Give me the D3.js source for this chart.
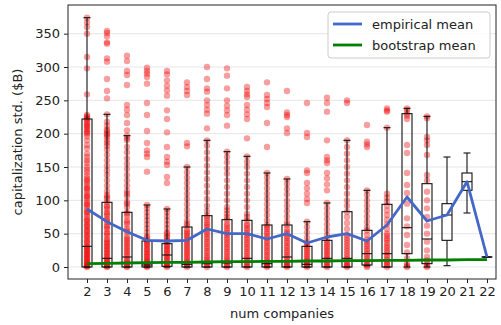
<!DOCTYPE html>
<html>
<head>
<meta charset="utf-8">
<script src="https://cdn.jsdelivr.net/npm/d3@7"></script>
<style>
  body { margin: 0; background: #fff; }
  svg { font-family: "DejaVu Sans", sans-serif; }
</style>
</head>
<body>
<svg id="chart" width="501" height="325"></svg>
<script>
// categories (number of companies)
const categories = [2, 3, 4, 5, 6, 7, 8, 9, 10, 11, 12, 13, 14, 15, 16, 17, 18, 19, 20, 21, 22];

// box statistics
const whiskerLow = [0, 0, 0, 0, 0, 0, 0, 0, 0, 0, 0, 0, 0, 0, 2, 0, 0, 0, 2, 81, 15];
const q1 = [0, 0, 0, 0, 1, 0, 0, 0, 0, 0, 0, 0, 0, 0, 3, 0, 20, 5, 40, 115, 15];
const medians = [31, 13, 15, 3, 18, 4, 5, 6, 13, 5, 15, 4, 13, 13, 20, 20, 59, 42, 78, 128, 15];
const q3 = [222, 97, 82, 39, 35, 60, 77, 71, 70, 63, 63, 31, 40, 83, 55, 94, 230, 125, 95, 141, 15];
const whiskerHigh = [374, 229, 197, 93, 87, 150, 190, 173, 166, 141, 132, 68, 96, 190, 115, 209, 238, 226, 165, 171, 15];

// mean lines
const empiricalMean = [87, 68, 53, 40, 39, 40, 57, 50, 50, 42, 50, 36, 45, 50, 39, 63, 105, 69, 78, 128, 15];
const bootstrapMean = [5, 5.5, 6, 6.5, 7, 7, 7.5, 8, 8, 8.5, 8.5, 9, 9, 9.5, 9.5, 10, 10, 10.5, 10.5, 11, 11];

// individual observations per category
const points = [
  [374, 367, 360, 350, 315, 298, 259, 228, 226, 224, 222, 220, 217, 214, 210, 207, 204, 200, 196, 190, 183, 178, 170, 165, 160, 156, 150, 146, 142, 137, 133, 128, 124, 120, 116, 112, 108, 104, 100, 96, 92, 88, 84, 80, 76, 72, 68, 64, 60, 56, 52, 48, 44, 40, 36, 32, 28, 24, 20, 16, 12, 8, 5, 3, 1, 0, 2, 6, 10, 14, 18, 22, 26, 30, 38, 46, 54, 62, 70, 82, 94, 106, 118, 130, 202, 212],
  [354, 351, 346, 337, 335, 313, 308, 282, 264, 253, 229, 218, 212, 206, 200, 195, 190, 186, 182, 176, 168, 160, 152, 145, 138, 130, 122, 114, 108, 102, 97, 92, 87, 82, 77, 72, 67, 62, 57, 52, 47, 42, 37, 32, 27, 22, 17, 12, 8, 4, 1, 0, 2, 6, 10, 15, 20, 25, 30, 35, 40, 50, 60, 70, 80, 90, 105, 204, 198],
  [317, 309, 294, 288, 273, 243, 236, 228, 216, 205, 197, 193, 190, 180, 172, 163, 155, 147, 138, 130, 122, 114, 106, 98, 90, 82, 76, 70, 64, 58, 52, 46, 40, 34, 28, 22, 16, 10, 5, 1, 0, 3, 7, 12, 19, 25, 31, 37, 43, 55, 67, 80, 95, 110],
  [299, 294, 290, 285, 275, 246, 228, 204, 186, 175, 170, 165, 143, 93, 88, 82, 76, 70, 64, 58, 52, 46, 40, 35, 30, 25, 20, 15, 10, 6, 3, 1, 0, 2, 5, 8, 12, 17, 22, 27, 33, 38, 44],
  [294, 289, 280, 272, 265, 257, 235, 222, 202, 180, 165, 158, 153, 135, 126, 87, 82, 76, 70, 64, 58, 52, 46, 40, 35, 30, 25, 20, 15, 10, 5, 2, 0, 3, 7, 12, 17, 22, 27, 32, 38, 44, 50],
  [277, 270, 264, 258, 186, 181, 150, 142, 134, 126, 118, 110, 102, 94, 86, 78, 70, 62, 56, 50, 44, 38, 32, 26, 20, 14, 8, 4, 0, 2, 6, 11, 17, 23, 29, 35, 41, 47, 53, 65],
  [300, 282, 268, 263, 250, 243, 236, 230, 208, 190, 182, 172, 162, 152, 142, 132, 122, 112, 102, 92, 84, 77, 70, 63, 56, 49, 42, 35, 28, 21, 14, 8, 3, 0, 5, 11, 17, 24, 31, 38, 45, 52, 60, 66, 74],
  [298, 287, 268, 250, 242, 235, 228, 212, 173, 165, 157, 148, 140, 130, 120, 110, 100, 90, 80, 71, 65, 58, 51, 44, 37, 30, 23, 16, 10, 5, 0, 2, 7, 13, 20, 27, 34, 41, 48, 55, 62, 75, 85],
  [270, 264, 259, 255, 243, 236, 229, 222, 193, 166, 158, 150, 140, 130, 120, 110, 100, 90, 80, 70, 64, 58, 51, 44, 37, 30, 23, 16, 10, 5, 0, 2, 7, 13, 20, 27, 34, 41, 48, 55, 62, 75],
  [277, 258, 252, 246, 240, 216, 180, 141, 134, 126, 118, 110, 102, 94, 86, 78, 70, 63, 57, 50, 43, 36, 29, 22, 15, 8, 3, 0, 2, 5, 11, 18, 25, 32, 39, 46, 53, 60],
  [264, 232, 228, 225, 208, 201, 132, 125, 117, 109, 100, 92, 84, 76, 68, 63, 57, 50, 43, 36, 29, 22, 15, 8, 3, 0, 2, 5, 11, 18, 25, 32, 39, 46, 53],
  [246, 201, 195, 145, 141, 126, 118, 110, 102, 96, 68, 60, 52, 44, 37, 31, 25, 19, 13, 8, 3, 0, 2, 5, 10, 16, 22, 28, 34],
  [254, 246, 233, 190, 165, 160, 156, 141, 133, 124, 115, 96, 88, 80, 72, 64, 56, 48, 40, 34, 28, 22, 16, 10, 5, 0, 2, 7, 13, 19, 25, 31, 37],
  [250, 246, 190, 180, 170, 160, 150, 140, 130, 120, 110, 100, 92, 83, 75, 66, 57, 48, 40, 32, 24, 16, 9, 3, 0, 2, 6, 12, 20, 28, 36, 44],
  [213, 188, 184, 180, 115, 108, 100, 92, 84, 76, 68, 60, 55, 48, 41, 34, 27, 20, 13, 7, 2, 0, 4, 10, 17, 24, 31, 38],
  [238, 235, 233, 209, 110, 104, 98, 92, 85, 78, 71, 64, 57, 50, 43, 36, 29, 22, 15, 8, 3, 0, 5, 11, 18, 25, 32, 40, 47],
  [238, 235, 230, 227, 222, 183, 171, 141, 123, 111, 95, 73, 61, 48, 33, 22, 13, 5, 0, 2],
  [226, 223, 195, 190, 183, 168, 138, 130, 113, 100, 88, 75, 62, 50, 38, 25, 15, 5, 0, 2, 10],
  [],
  [],
  []
];

const yTicks = [0, 50, 100, 150, 200, 250, 300, 350];

const width = 501, height = 325;
const margin = { left: 68, right: 5, top: 5, bottom: 46 };
const svg = d3.select("#chart");

const x = d3.scaleLinear().domain([1.05, 22.45]).range([margin.left, width - margin.right]);
const y = d3.scaleLinear().domain([-18, 393]).range([height - margin.bottom, margin.top]);

// grid
svg.append("g")
  .selectAll("line")
  .data(yTicks)
  .join("line")
  .attr("x1", margin.left)
  .attr("x2", width - margin.right)
  .attr("y1", d => y(d))
  .attr("y2", d => y(d))
  .attr("stroke", "#e6e6e6")
  .attr("stroke-width", 1);

// scatter points
const flat = [];
points.forEach((arr, i) => arr.forEach(v => flat.push({ c: categories[i], v })));
svg.append("g")
  .selectAll("circle")
  .data(flat)
  .join("circle")
  .attr("cx", d => x(d.c))
  .attr("cy", d => y(d.v))
  .attr("r", 3.2)
  .attr("fill", "#ee0000")
  .attr("fill-opacity", 0.38);

// boxes
const boxW = 0.5, capW = 0.35;
const boxes = categories.map((c, i) => ({
  c, lo: whiskerLow[i], q1: q1[i], med: medians[i], q3: q3[i], hi: whiskerHigh[i]
}));
const bg = svg.append("g").attr("stroke", "#111").attr("stroke-width", 1.1).attr("fill", "none");
boxes.forEach(b => {
  const g = bg.append("g");
  g.append("line").attr("x1", x(b.c)).attr("x2", x(b.c)).attr("y1", y(b.q3)).attr("y2", y(b.hi));
  g.append("line").attr("x1", x(b.c)).attr("x2", x(b.c)).attr("y1", y(b.lo)).attr("y2", y(b.q1));
  g.append("line").attr("x1", x(b.c - capW / 2)).attr("x2", x(b.c + capW / 2)).attr("y1", y(b.hi)).attr("y2", y(b.hi));
  g.append("line").attr("x1", x(b.c - capW / 2)).attr("x2", x(b.c + capW / 2)).attr("y1", y(b.lo)).attr("y2", y(b.lo));
  g.append("rect")
    .attr("x", x(b.c - boxW / 2))
    .attr("width", x(b.c + boxW / 2) - x(b.c - boxW / 2))
    .attr("y", y(b.q3))
    .attr("height", Math.max(0.01, y(b.q1) - y(b.q3)));
  g.append("line").attr("x1", x(b.c - boxW / 2)).attr("x2", x(b.c + boxW / 2)).attr("y1", y(b.med)).attr("y2", y(b.med));
});

// mean lines
const line = d3.line().x((d, i) => x(categories[i])).y(d => y(d));
svg.append("path")
  .attr("d", line(bootstrapMean))
  .attr("fill", "none")
  .attr("stroke", "#008000")
  .attr("stroke-width", 2.8);
svg.append("path")
  .attr("d", line(empiricalMean))
  .attr("fill", "none")
  .attr("stroke", "#4468c8")
  .attr("stroke-width", 2.8)
  .attr("stroke-linejoin", "round");

// axes
const xAxis = d3.axisBottom(x).tickValues(categories).tickSize(4).tickPadding(4).tickFormat(d3.format("d"));
const yAxis = d3.axisLeft(y).tickValues(yTicks).tickSize(4).tickPadding(4);
const gx = svg.append("g").attr("transform", `translate(0,${height - margin.bottom})`).call(xAxis);
const gy = svg.append("g").attr("transform", `translate(${margin.left},0)`).call(yAxis);
[gx, gy].forEach(g => {
  g.select(".domain").remove();
  g.selectAll("text").attr("font-size", 13).attr("fill", "#222").attr("font-family", "DejaVu Sans");
  g.selectAll("line").attr("stroke", "#222");
});

// frame
svg.append("rect")
  .attr("x", margin.left)
  .attr("y", margin.top)
  .attr("width", width - margin.left - margin.right)
  .attr("height", height - margin.top - margin.bottom)
  .attr("fill", "none")
  .attr("stroke", "#222")
  .attr("stroke-width", 1);

// axis labels
svg.append("text")
  .attr("x", (margin.left + width - margin.right) / 2)
  .attr("y", 318)
  .attr("text-anchor", "middle")
  .attr("font-size", 13)
  .attr("fill", "#222")
  .text("num companies");
svg.append("text")
  .attr("transform", `translate(22,${(margin.top + height - margin.bottom) / 2}) rotate(-90)`)
  .attr("text-anchor", "middle")
  .attr("font-size", 13)
  .attr("fill", "#222")
  .text("capitalization std. ($B)");

// legend
const legend = svg.append("g");
legend.append("rect")
  .attr("x", 328).attr("y", 12).attr("width", 162).attr("height", 46)
  .attr("rx", 3)
  .attr("fill", "#fff").attr("fill-opacity", 0.85)
  .attr("stroke", "#ccc");
const legendItems = [
  { label: "empirical mean", color: "#4468c8" },
  { label: "bootstrap mean", color: "#008000" }
];
legendItems.forEach((d, i) => {
  const ly = 24 + i * 21;
  legend.append("line")
    .attr("x1", 333).attr("x2", 362).attr("y1", ly).attr("y2", ly)
    .attr("stroke", d.color).attr("stroke-width", 2.8);
  legend.append("text")
    .attr("x", 372).attr("y", ly + 4.5)
    .attr("font-size", 13).attr("fill", "#222")
    .text(d.label);
});
</script>
</body>
</html>
